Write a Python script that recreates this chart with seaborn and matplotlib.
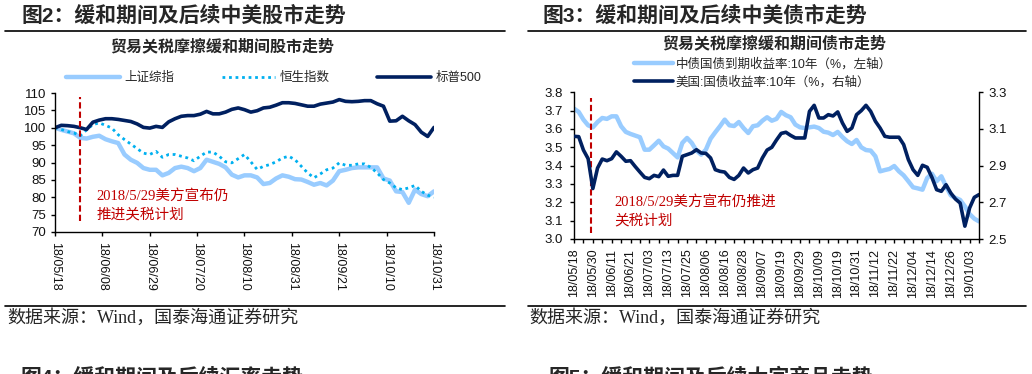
import numpy as np
import pandas as pd
import seaborn as sns
import matplotlib.pyplot as plt
from matplotlib.lines import Line2D

# ---- left panel: stock indices, 18/05/18 = 100, one value every 2 trading days ----
stock_ticks = ['18/05/18', '18/06/08', '18/06/29', '18/07/20', '18/08/10',
               '18/08/31', '18/09/21', '18/10/10', '18/10/31']
shanghai = [100.0, 99.4, 98.9, 98.4, 97.1, 96.9, 97.4, 97.7, 96.7, 96.1,
            95.6, 92.3, 90.8, 89.9, 88.4, 87.9, 87.9, 86.3, 87.0, 88.4,
            88.8, 88.4, 87.5, 88.4, 90.8, 90.2, 89.6, 88.6, 86.5, 85.7,
            86.3, 86.3, 85.7, 83.8, 84.1, 85.4, 86.3, 85.9, 85.2, 85.1,
            84.4, 83.6, 84.1, 83.4, 84.8, 87.5, 87.9, 88.4, 88.6, 88.6,
            88.6, 88.6, 85.4, 84.8, 81.7, 81.5, 78.4, 82.2, 80.9, 80.3,
            81.7]
hangseng = [100.0, 99.5, 98.9, 98.5, 97.7, 99.4, 100.9, 101.4, 100.7, 99.9,
            98.0, 96.6, 95.3, 94.0, 92.7, 92.3, 93.2, 91.5, 92.3, 92.3,
            91.8, 91.3, 90.5, 91.8, 93.0, 93.0, 91.8, 90.2, 89.9, 91.1,
            92.3, 90.2, 88.0, 88.9, 89.4, 90.2, 91.3, 91.8, 90.8, 88.9,
            87.0, 85.6, 86.7, 87.9, 88.4, 89.9, 89.2, 89.2, 89.6, 89.6,
            88.6, 87.0, 85.1, 84.1, 82.7, 82.2, 82.7, 83.4, 81.7, 80.6,
            80.0]
sp500 = [100.0, 100.7, 100.6, 100.4, 100.0, 99.5, 101.6, 102.2, 102.6, 102.6,
         102.4, 102.1, 101.8, 101.1, 100.1, 99.9, 100.4, 100.1, 101.7, 102.6,
         103.3, 103.5, 103.5, 103.9, 104.7, 104.0, 104.0, 104.5, 105.3, 105.7,
         105.2, 104.5, 104.9, 105.7, 105.9, 106.5, 107.2, 107.2, 107.0, 106.6,
         106.2, 106.2, 106.8, 107.1, 107.4, 108.1, 107.6, 107.5, 107.6, 107.8,
         107.8, 106.9, 106.2, 101.9, 102.0, 103.3, 102.0, 100.9, 98.7, 97.5,
         100.1]
stock_event_day = 8

# ---- right panel: 10Y yields, one value every 2 trading days ----
bond_ticks = ['18/05/18', '18/05/30', '18/06/11', '18/06/21', '18/07/03', '18/07/13',
              '18/07/25', '18/08/06', '18/08/16', '18/08/28', '18/09/07', '18/09/19',
              '18/09/29', '18/10/09', '18/10/19', '18/10/31', '18/11/12', '18/11/22',
              '18/12/04', '18/12/14', '18/12/26', '19/01/03']
cn_10y = [3.711, 3.693, 3.651, 3.620, 3.609, 3.638, 3.660, 3.655, 3.669, 3.669,
          3.615, 3.584, 3.573, 3.564, 3.555, 3.487, 3.487, 3.511, 3.536, 3.505,
          3.493, 3.469, 3.445, 3.524, 3.551, 3.524, 3.482, 3.460, 3.487, 3.547,
          3.582, 3.615, 3.651, 3.620, 3.616, 3.638, 3.605, 3.578, 3.615, 3.620,
          3.645, 3.664, 3.645, 3.655, 3.693, 3.675, 3.664, 3.624, 3.609, 3.605,
          3.609, 3.613, 3.605, 3.585, 3.580, 3.567, 3.584, 3.556, 3.533, 3.518,
          3.540, 3.500, 3.485, 3.482, 3.451, 3.369, 3.376, 3.382, 3.398, 3.369,
          3.347, 3.315, 3.282, 3.276, 3.269, 3.333, 3.356, 3.315, 3.342, 3.287,
          3.238, 3.224, 3.213, 3.178, 3.136, 3.111, 3.096]
us_10y = [3.060, 3.058, 2.985, 2.938, 2.775, 2.887, 2.936, 2.927, 2.938, 2.975,
          2.951, 2.924, 2.927, 2.895, 2.865, 2.836, 2.829, 2.847, 2.840, 2.876,
          2.842, 2.847, 2.847, 2.951, 2.960, 2.969, 2.987, 2.969, 2.967, 2.942,
          2.878, 2.869, 2.865, 2.836, 2.825, 2.847, 2.887, 2.860, 2.878, 2.887,
          2.942, 2.985, 3.000, 3.040, 3.076, 3.082, 3.065, 3.051, 3.051, 3.051,
          3.196, 3.229, 3.160, 3.160, 3.178, 3.171, 3.193, 3.133, 3.087, 3.105,
          3.178, 3.200, 3.229, 3.196, 3.142, 3.105, 3.060, 3.055, 3.055, 3.055,
          3.015, 2.933, 2.878, 2.847, 2.902, 2.891, 2.836, 2.769, 2.760, 2.796,
          2.751, 2.718, 2.696, 2.570, 2.669, 2.727, 2.742]
bond_event_day = 7.3

LIGHT = '#99CCFF'
CYAN = '#00B0F0'
NAVY = '#002060'
RED = '#C00000'
W, H = 1032, 374
SERIF = ['Liberation Serif', 'Noto Sans CJK SC']

sns.set_style('ticks')
plt.rcParams['font.family'] = ['Liberation Sans', 'Noto Sans CJK SC']
plt.rcParams['axes.unicode_minus'] = False


def box(left, top, right, bottom):
    # pixel box -> figure fraction [x0, y0, w, h]
    return [left / W, 1 - bottom / H, (right - left) / W, (bottom - top) / H]


def style_axis(ax):
    ax.set_xlabel('')
    ax.set_ylabel('')
    for s in ax.spines.values():
        s.set_color('black')
        s.set_linewidth(1)
    ax.tick_params(which='both', direction='out', length=3, width=1, color='black',
                   labelcolor='#111111', labelsize=9.5)
    if ax.get_legend() is not None:
        ax.get_legend().remove()


def header(fig, x_line, x_title, title):
    fig.add_artist(Line2D([x_line[0] / W, x_line[1] / W], [1 - 31 / H] * 2, color='black', lw=1.2))
    fig.add_artist(Line2D([x_line[0] / W, x_line[1] / W], [1 - 306 / H] * 2, color='black', lw=1.2))
    fig.text(x_title / W, 1 - 16 / H, title, fontsize=15, fontweight='bold', va='center', ha='left')
    fig.text((x_line[0] + 2) / W, 1 - 318 / H, '数据来源：Wind，国泰海通证券研究',
             fontsize=13, family=SERIF, va='center', ha='left')


def stock_panel(fig):
    df = pd.DataFrame({'day': np.arange(len(sp500)) * 2, '上证综指': shanghai,
                       '恒生指数': hangseng, '标普500': sp500})
    ax = fig.add_axes(box(55, 93, 434, 232))
    sns.lineplot(data=df, x='day', y='上证综指', ax=ax, color=LIGHT, linewidth=3.2, label='上证综指')
    sns.lineplot(data=df, x='day', y='恒生指数', ax=ax, color=CYAN, linewidth=2,
                 linestyle=(0, (1, 1.35)), label='恒生指数')
    sns.lineplot(data=df, x='day', y='标普500', ax=ax, color=NAVY, linewidth=2.6, label='标普500')
    handles, labels = ax.get_legend_handles_labels()
    style_axis(ax)
    ax.spines['top'].set_visible(False)
    ax.spines['right'].set_visible(False)
    ax.set_xlim(0, 120)
    ax.set_ylim(70, 110)
    ax.set_yticks(np.arange(70, 111, 5))
    ax.set_xticks(np.arange(len(stock_ticks)) * 15)
    ax.set_xticklabels(stock_ticks, rotation=270, fontsize=9)
    ax.tick_params(axis='x', pad=4)

    ax.vlines(stock_event_day, 73.3, 108.8, colors=RED, linestyles=(0, (3, 1.5)), lw=1.5)
    ax.text(13.2, 80.4, '2018/5/29美方宣布仍', color=RED, fontsize=10.5, family=SERIF, va='center')
    ax.text(13.2, 75.0, '推进关税计划', color=RED, fontsize=10.5, family=SERIF, va='center')

    fig.text(222 / W, 1 - 46.5 / H, '贸易关税摩擦缓和期间股市走势', fontsize=11.5,
             fontweight='bold', ha='center', va='center')
    fig.legend(handles, labels, loc='center left', bbox_to_anchor=(66 / W, 1 - 78 / H), ncol=3,
               frameon=False, borderpad=0, borderaxespad=0, handlelength=4.3, handletextpad=0.35,
               columnspacing=3.8, fontsize=9)


def bond_panel(fig):
    df = pd.DataFrame({'day': np.arange(len(cn_10y)) * 2, 'cn': cn_10y, 'us': us_10y})
    ax = fig.add_axes(box(574, 92.3, 979, 239))
    sns.lineplot(data=df, x='day', y='cn', ax=ax, color=LIGHT, linewidth=3.2,
                 label='中债国债到期收益率:10年（%，左轴）')
    axr = ax.twinx()
    sns.lineplot(data=df, x='day', y='us', ax=axr, color=NAVY, linewidth=2.6,
                 label='美国:国债收益率:10年（%，右轴）')
    h1, l1 = ax.get_legend_handles_labels()
    h2, l2 = axr.get_legend_handles_labels()
    style_axis(ax)
    style_axis(axr)
    ax.spines['top'].set_visible(False)
    ax.spines['right'].set_visible(False)
    axr.spines['top'].set_visible(False)
    axr.spines['left'].set_visible(False)
    axr.spines['bottom'].set_visible(False)

    ax.set_xlim(0, 172)
    ax.set_ylim(3.0, 3.8)
    ax.set_yticks(np.arange(3.0, 3.81, 0.1))
    ax.yaxis.set_major_formatter('{x:.1f}')
    axr.set_ylim(2.5, 3.3)
    axr.set_yticks(np.arange(2.5, 3.31, 0.2))
    axr.yaxis.set_major_formatter('{x:.1f}')
    ax.set_xticks(np.arange(len(bond_ticks)) * 8)
    ax.set_xticks(np.arange(0, 173, 4), minor=True)
    ax.set_xticklabels(bond_ticks, rotation=90, fontsize=9)
    ax.tick_params(axis='x', pad=4)
    ax.tick_params(axis='y', pad=5)

    ax.vlines(bond_event_day, 3.03, 3.77, colors=RED, linestyles=(0, (3, 1.5)), lw=1.5)
    ax.text(17.3, 3.202, '2018/5/29美方宣布仍推进', color=RED, fontsize=10.5, family=SERIF, va='center')
    ax.text(17.3, 3.101, '关税计划', color=RED, fontsize=10.5, family=SERIF, va='center')

    fig.text(774.5 / W, 1 - 43.5 / H, '贸易关税摩擦缓和期间债市走势', fontsize=11.5,
             fontweight='bold', ha='center', va='center')
    fig.legend(h1 + h2, l1 + l2, loc='upper left', bbox_to_anchor=(634 / W, 1 - 58 / H), ncol=1,
               frameon=False, borderpad=0, borderaxespad=0, handlelength=3.1, handletextpad=0.25,
               labelspacing=0.45, fontsize=9)


fig = plt.figure(figsize=(W / 100, H / 100), dpi=100)
header(fig, (5, 505), 21.7, '图2：缓和期间及后续中美股市走势')
header(fig, (527.7, 1026), 542.7, '图3：缓和期间及后续中美债市走势')
stock_panel(fig)
bond_panel(fig)

# next figure titles, cut off by the page edge (as in the source page)
fig.text(20 / W, 1 - 367 / H, '图4：缓和期间及后续汇率走势', fontsize=15, fontweight='bold', va='top')
fig.text(549 / W, 1 - 367 / H, '图5：缓和期间及后续大宗商品走势', fontsize=15, fontweight='bold', va='top')

fig.savefig('out.png', dpi=100)
plt.close(fig)
